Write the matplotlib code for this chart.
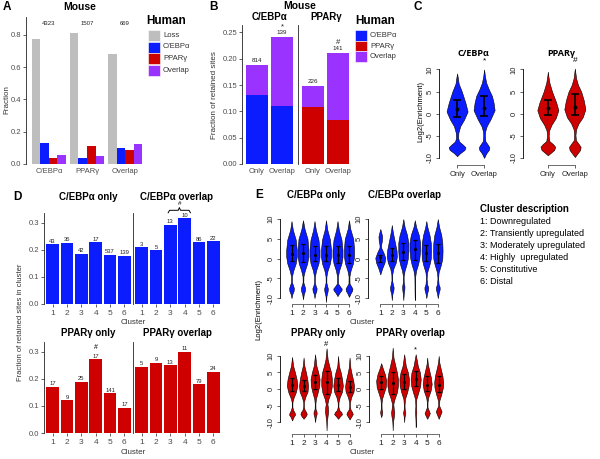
import numpy as np
import matplotlib
matplotlib.use("Agg")
import matplotlib.pyplot as plt
from matplotlib.patches import Rectangle

plt.rcParams['font.family'] = ['Liberation Sans', 'DejaVu Sans']

W, H = 600, 459
BLUE = '#0b1dff'
RED = '#cf0000'
PURPLE = '#9a33ff'
GREY = '#bebebe'
TXT = '#333333'

# ---------------- data ----------------
# A
a_groups = ['C/EBPα', 'PPARγ', 'Overlap']
a_series = ['Loss', 'C/EBPα', 'PPARγ', 'Overlap']
a_loss = [0.775, 0.81, 0.68]
a_cebpa = [0.13, 0.035, 0.10]
a_pparg = [0.035, 0.11, 0.085]
a_overlap = [0.055, 0.05, 0.125]
a_counts = [4323, 1507, 669]

# B
b_facets = ['C/EBPα', 'PPARγ']
b_cats = ['Only', 'Overlap']
b_cebpa_single = [0.132, 0.111]
b_cebpa_total = [0.188, 0.241]
b_pparg_single = [0.109, 0.083]
b_pparg_total = [0.149, 0.211]
b_counts = [[814, 139], [226, 141]]
b_marks = [['', '*'], ['', '#']]

# C  violin profiles: (log2 enrichment, relative half width)
c_cebpa_only = [(-9.6, 0), (-8.9, .3), (-8.2, .7), (-7.6, .8), (-7.0, .55), (-6.3, .2), (-5.5, .1),
                (-4.3, .12), (-2.8, .3), (-1.3, .67), (0.5, 1.0), (2.4, .8), (5, .45), (6.8, .15),
                (8, .08), (9.1, 0)]
c_cebpa_overlap = [(-10, 0), (-9, .2), (-8.2, .45), (-7.6, .5), (-7, .35), (-6.2, .12), (-5, .08),
                   (-4, .1), (-2.8, .25), (-1.3, .6), (0.8, 1.0), (2.5, .9), (4, .75), (5.5, .45),
                   (7, .2), (8.5, .08), (10, 0)]
c_pparg_only = [(-9.4, 0), (-8.8, .3), (-8.2, .6), (-7.5, .7), (-6.9, .5), (-6.2, .15), (-5, .08),
                (-3.8, .12), (-2.5, .35), (-1, .75), (0.8, 1.0), (2.5, .8), (5, .4), (7, .15),
                (8.5, .05), (9.5, 0)]
c_pparg_overlap = [(-9.8, 0), (-9, .25), (-8.2, .5), (-7.5, .55), (-6.8, .35), (-6, .1), (-4.8, .06),
                   (-3.5, .12), (-2.2, .35), (-0.8, .75), (1, 1.0), (3, .85), (5, .6), (6.5, .3),
                   (8, .12), (10.2, 0)]
c_cebpa_box = [(-0.7, 3.2, 1.0), (-0.5, 4.0, 1.2)]   # (low, high, median)
c_pparg_box = [(-0.4, 3.2, 1.3), (-0.3, 4.4, 1.5)]

# D
clusters = ['1', '2', '3', '4', '5', '6']
d_cebpa_only = [0.222, 0.227, 0.186, 0.228, 0.182, 0.179]
d_cebpa_only_n = [43, 36, 42, 17, 537, 139]
d_cebpa_overlap = [0.211, 0.199, 0.293, 0.318, 0.229, 0.232]
d_cebpa_overlap_n = [3, 5, 13, 10, 86, 22]
d_pparg_only = [0.171, 0.122, 0.190, 0.273, 0.147, 0.093]
d_pparg_only_n = [17, 9, 25, 17, 141, 17]
d_pparg_overlap = [0.245, 0.260, 0.250, 0.301, 0.180, 0.227]
d_pparg_overlap_n = [5, 9, 13, 11, 79, 24]

# E  violin profiles per cluster
e_cebpa_only = [
    [(-10, 0), (-9, .15), (-8.2, .4), (-7.5, .45), (-6.8, .3), (-6, .08), (-4.5, .08), (-3, .35),
     (-1.2, .8), (0.5, 1.0), (2.2, 1.0), (4.8, .8), (7.3, .25), (9.5, 0)],
    [(-10.3, 0), (-9, .15), (-8.2, .35), (-7.5, .4), (-6.8, .25), (-6, .06), (-4.5, .08), (-3, .35),
     (-1.2, .8), (0.5, 1.0), (2.5, 1.0), (5, .85), (7.5, .3), (9.7, 0)],
    [(-10, 0), (-9, .12), (-8.2, .35), (-7.5, .4), (-6.8, .2), (-6, .06), (-4.5, .08), (-3, .3),
     (-1.2, .75), (0.5, .95), (2.2, .95), (4.8, .75), (7.3, .25), (9.5, 0)],
    [(-11, 0), (-9.5, .08), (-8.3, .3), (-7.6, .35), (-6.8, .2), (-6, .06), (-4.5, .08), (-3, .3),
     (-1.2, .75), (0.5, .95), (2.2, .95), (4.8, .75), (7.3, .25), (9.7, 0)],
    [(-9.5, 0), (-8.7, .35), (-8, .75), (-7.6, .8), (-7, .45), (-6.3, .1), (-4.5, .08), (-3, .3),
     (-1.2, .75), (0.5, .95), (2.2, .95), (4.8, .75), (7.3, .25), (9.5, 0)],
    [(-9.7, 0), (-8.8, .3), (-8.1, .6), (-7.6, .65), (-7, .4), (-6.3, .1), (-4.5, .08), (-3, .3),
     (-1.2, .75), (0.5, .95), (2.5, .95), (5, .8), (7.5, .25), (9.7, 0)],
]
e_cebpa_only_box = [(-0.5, 3.5, 1.2), (-0.8, 3.8, 1.3), (-0.5, 3.2, 1.0),
                    (-0.5, 3.3, 1.0), (-1, 3.2, 0.8), (-1, 3.3, 1.0)]
e_cebpa_overlap = [
    [(-4, 0), (-2.5, .35), (-1, .8), (0.2, .95), (1.5, .6), (2.8, .15), (3.5, .15), (4.5, .3),
     (5.6, .35), (6.5, .2), (7.5, 0)],
    [(-10.5, 0), (-9, .1), (-8, .3), (-7.3, .35), (-6.5, .2), (-5.5, .06), (-4, .08), (-2.5, .3),
     (-1, .75), (0.5, .95), (2, .9), (4, .6), (6, .3), (7.5, .1), (8.5, 0)],
    [(-10.5, 0), (-9, .08), (-7.8, .2), (-7, .22), (-6, .08), (-4.5, .06), (-3, .25), (-1.5, .6),
     (0, .85), (2, .95), (4, .95), (6, .7), (8, .25), (10, 0)],
    [(-10.5, 0), (-8, .05), (-6, .06), (-4.5, .08), (-3, .25), (-1.5, .6), (0, .85), (2, 1.0),
     (4, 1.0), (6, .75), (8, .25), (9.7, 0)],
    [(-10, 0), (-8.8, .15), (-7.8, .35), (-7.2, .35), (-6.5, .15), (-5, .06), (-3.5, .15),
     (-1.5, .6), (0, .85), (2, .9), (4, .85), (6, .6), (8, .2), (9.5, 0)],
    [(-10, 0), (-8.8, .15), (-7.8, .35), (-7.2, .35), (-6.5, .15), (-5, .06), (-3.5, .15),
     (-1.5, .6), (0, .85), (2, .9), (4, .85), (6, .65), (8, .25), (10, 0)],
]
e_cebpa_overlap_box = [(-0.8, 1.0, 0.3), (-0.7, 2.8, 1.0), (-0.3, 4.0, 1.8),
                       (-0.3, 4.8, 2.5), (-0.7, 3.5, 1.5), (-1, 3.8, 1.4)]
e_pparg_only = [
    [(-9.5, 0), (-8.5, .25), (-7.8, .55), (-7.2, .5), (-6.5, .25), (-5.5, .06), (-4, .06),
     (-2.8, .25), (-1, .7), (1, 1.0), (3, .85), (5, .55), (7, .2), (9.7, 0)],
    [(-9, 0), (-8.3, .35), (-7.6, .6), (-7, .5), (-6.3, .2), (-5.3, .06), (-4, .06), (-2.5, .3),
     (-0.8, .75), (1, .85), (3, .7), (5, .45), (7, .15), (9.5, 0)],
    [(-10, 0), (-8.5, .12), (-7.5, .3), (-6.8, .28), (-6, .08), (-4.5, .06), (-3, .15), (-1, .5),
     (1, .8), (3, .85), (5, .6), (7, .25), (10.5, 0)],
    [(-12.5, 0), (-10, .06), (-8, .2), (-6.8, .3), (-5.5, .25), (-4.5, .15), (-3, .35), (-1, .8),
     (1, 1.0), (3, 1.0), (5, .85), (7, .5), (9, .2), (12.3, 0)],
    [(-9, 0), (-8.3, .35), (-7.6, .75), (-7, .6), (-6.3, .2), (-5.3, .06), (-4, .08), (-2.5, .3),
     (-0.8, .75), (1, .9), (3, .75), (5, .5), (7, .15), (10, 0)],
    [(-9.2, 0), (-8.4, .3), (-7.6, .6), (-7, .5), (-6.3, .2), (-5.3, .06), (-4, .08), (-2.5, .3),
     (-0.8, .75), (0.8, .85), (2.5, .7), (4.5, .4), (6.5, .15), (9.5, 0)],
]
e_pparg_only_box = [(-0.5, 3.2, 1.2), (-0.5, 2.8, 0.9), (0, 4.2, 2.0),
                    (-1.5, 5.5, 2.0), (-0.5, 3.2, 1.2), (-0.8, 2.5, 0.7)]
e_pparg_overlap = [
    [(-8.5, 0), (-7.8, .12), (-7, .2), (-6, .08), (-4.5, .06), (-3, .15), (-1.2, .5), (0.5, .85),
     (2.5, .95), (4.5, .7), (6, .35), (7.8, 0)],
    [(-12.5, 0), (-10, .06), (-8, .25), (-7, .3), (-6, .2), (-4.5, .12), (-3, .35), (-1, .8),
     (1, 1.0), (3, 1.0), (5, .8), (7, .5), (9.5, .15), (12.5, 0)],
    [(-10, 0), (-8.5, .06), (-7.2, .22), (-6.2, .1), (-5, .06), (-3, .15), (-1, .55), (1, .85),
     (3, .9), (5, .7), (7, .3), (10.5, 0)],
    [(-11.5, 0), (-9, .05), (-7, .12), (-5, .06), (-3, .12), (-1, .5), (1, .85), (3, .95),
     (5, .8), (7, .4), (10.5, 0)],
    [(-9, 0), (-8.2, .25), (-7.3, .5), (-6.5, .3), (-5.5, .06), (-4, .06), (-2.5, .2), (-0.5, .65),
     (1.5, .85), (3.5, .7), (5.5, .4), (7.5, .12), (9.5, 0)],
    [(-9, 0), (-8, .25), (-6.8, .55), (-6, .35), (-5, .08), (-3.5, .12), (-1.5, .5), (0.5, .8),
     (2, .85), (4, .7), (6, .4), (8, .12), (10, 0)],
]
e_pparg_overlap_box = [(0, 4.0, 2.0), (-1.5, 5.0, 1.8), (0, 4.5, 2.0),
                       (1, 5.5, 3.0), (-0.5, 3.8, 1.3), (-1, 3.8, 1.2)]

cluster_desc = ['1: Downregulated', '2: Transiently upregulated', '3: Moderately upregulated',
                '4: Highly  upregulated', '5: Constitutive', '6: Distal']

# ---------------- layout helpers ----------------
fig = plt.figure(figsize=(W / 100, H / 100), dpi=100)

ov = fig.add_axes([0, 0, 1, 1])
ov.set_xlim(0, W)
ov.set_ylim(H, 0)
ov.axis('off')
ov.patch.set_alpha(0)


def add_ax(left, top, right, bottom):
    return fig.add_axes([left / W, 1 - bottom / H, (right - left) / W, (bottom - top) / H])


def gg_axes(ax, yticks=None, ylabels=True):
    for s in ['top', 'right', 'bottom']:
        ax.spines[s].set_visible(False)
    ax.spines['left'].set_color('#222222')
    ax.spines['left'].set_linewidth(0.6)
    ax.tick_params(labelsize=5.5, length=2, width=0.5, pad=1.5, colors='#222222',
                   labelcolor='#4d4d4d')
    if yticks is not None:
        ax.set_yticks(yticks)
    if not ylabels:
        ax.tick_params(axis='y', length=0, labelleft=False)
    ax.patch.set_alpha(0)


def violin(ax, pos, prof, color, hw):
    ys = np.array([p[0] for p in prof])
    ws = np.array([p[1] for p in prof]) * hw
    ax.fill_betweenx(ys, pos - ws, pos + ws, facecolor=color, edgecolor='black',
                     linewidth=0.4, zorder=2)


def r_axes(ax, xticks, xlabels, ylow=-10, yhigh=10):
    for s in ['top', 'right']:
        ax.spines[s].set_visible(False)
    ax.spines['left'].set_bounds(ylow, yhigh)
    ax.spines['bottom'].set_bounds(xticks[0], xticks[-1])
    ax.spines['left'].set_linewidth(0.6)
    ax.spines['bottom'].set_linewidth(0.6)
    ax.spines['bottom'].set_color('#555555')
    ax.set_yticks([-10, -5, 0, 5, 10])
    ax.set_yticklabels(['-10', '-5', '0', '5', '10'], rotation=90, va='center')
    ax.set_xticks(xticks)
    ax.set_xticklabels(xlabels)
    ax.tick_params(labelsize=5.5, length=2.5, width=0.5, pad=1.5, colors='#222222')
    ax.patch.set_alpha(0)


# ---------------- A ----------------
ax = add_ax(26, 17, 148, 164)
xa = np.arange(len(a_groups)) + 1
bw = 0.225
for i, (vals, col) in enumerate(zip([a_loss, a_cebpa, a_pparg, a_overlap],
                                     [GREY, BLUE, RED, PURPLE])):
    ax.bar(xa + (i - 1.5) * bw, vals, bw, color=col, linewidth=0)
for xi, n in zip(xa, a_counts):
    ax.text(xi, 0.87, str(n), ha='center', va='center', fontsize=4.3, color='#222222')
ax.set_xlim(0.4, 3.6)
ax.set_ylim(0, 0.91)
gg_axes(ax, [0, 0.2, 0.4, 0.6, 0.8])
ax.set_yticklabels(['0.0', '0.2', '0.4', '0.6', '0.8'])
ax.set_xticks(xa)
ax.set_xticklabels(a_groups)
ax.tick_params(axis='x', length=0, pad=3)

ov.text(7, 7, 'A', fontsize=8.5, fontweight='bold', ha='center', va='center')
ov.text(80, 7, 'Mouse', fontsize=7.5, fontweight='bold', ha='center', va='center')
ov.text(7, 100, 'Fraction', fontsize=5.8, rotation=90, ha='center', va='center', color=TXT)
ov.text(146, 21, 'Human', fontsize=8.5, fontweight='bold', ha='left', va='center')
for i, (lab, col) in enumerate(zip(a_series, [GREY, BLUE, RED, PURPLE])):
    y0 = 30 + i * 11.5
    ov.add_patch(Rectangle((148, y0), 12, 11, facecolor=col, edgecolor='white', lw=0.4))
    ov.text(163, y0 + 5.5, lab, fontsize=5.5, ha='left', va='center', color=TXT)

# ---------------- B ----------------
xb = np.arange(len(b_cats)) + 1
for k in range(2):
    left = [242, 298][k]
    ax = add_ax(left, 25, left + 55, 164)
    single = np.array([b_cebpa_single, b_pparg_single][k])
    total = np.array([b_cebpa_total, b_pparg_total][k])
    col = [BLUE, RED][k]
    ax.bar(xb, single, 0.9, color=col, linewidth=0)
    ax.bar(xb, total - single, 0.9, bottom=single, color=PURPLE, linewidth=0)
    for xi, t, n, m in zip(xb, total, b_counts[k], b_marks[k]):
        ax.text(xi, t + 0.008, str(n), ha='center', va='center', fontsize=4.5, color='#222222')
        if m:
            ax.text(xi, t + 0.019, m, ha='center', va='center', fontsize=5.5, color='#222222')
    ax.set_xlim(0.4, 2.6)
    ax.set_ylim(0, 0.264)
    gg_axes(ax, [0, 0.05, 0.10, 0.15, 0.20, 0.25], ylabels=(k == 0))
    if k == 0:
        ax.set_yticklabels(['0.00', '0.05', '0.10', '0.15', '0.20', '0.25'])
    ax.set_xticks(xb)
    ax.set_xticklabels(b_cats)
    ax.tick_params(axis='x', length=0, pad=3)
    ov.text(left + 28, 17, b_facets[k], fontsize=7, fontweight='bold', ha='center', va='center')

ov.text(213, 7, 'B', fontsize=8.5, fontweight='bold', ha='center', va='center')
ov.text(300, 6, 'Mouse', fontsize=7.5, fontweight='bold', ha='center', va='center')
ov.text(214, 95, 'Fraction of retained sites', fontsize=5.8, rotation=90,
        ha='center', va='center', color=TXT)
ov.text(355, 21, 'Human', fontsize=8.5, fontweight='bold', ha='left', va='center')
for i, (lab, col) in enumerate(zip(['C/EBPα', 'PPARγ', 'Overlap'], [BLUE, RED, PURPLE])):
    y0 = 30 + i * 10.7
    ov.add_patch(Rectangle((355, y0), 12, 10.5, facecolor=col, edgecolor='white', lw=0.4))
    ov.text(370, y0 + 5.3, lab, fontsize=5.5, ha='left', va='center', color=TXT)

# ---------------- C ----------------
ov.text(418, 7, 'C', fontsize=8.5, fontweight='bold', ha='center', va='center')
ov.text(421, 112, 'Log2(Enrichment)', fontsize=5.5, rotation=90, ha='center', va='center')
c_sets = [(439, 497, 0.33, [c_cebpa_only, c_cebpa_overlap], c_cebpa_box, BLUE, 'C/EBPα', '*'),
          (523, 590, 0.08, [c_pparg_only, c_pparg_overlap], c_pparg_box, RED, 'PPARγ', '#')]
for left, right, x0, profs, boxes, col, title, mark in c_sets:
    ax = add_ax(left, 58, right, 165)
    for j, (prof, bx) in enumerate(zip(profs, boxes)):
        violin(ax, j + 1, prof, col, 0.39)
        lo, hi, med = bx
        ax.errorbar(j + 1, med, yerr=[[med - lo], [hi - med]], fmt='o', color='black',
                    ms=1.8, elinewidth=1.2, capsize=3.2, capthick=1.2, zorder=3)
    ax.text(2, 12, mark, ha='center', va='center', fontsize=6)
    ax.set_xlim(x0, x0 + (right - left) / 27.0)
    ax.set_ylim(-11.6, 12.6)
    r_axes(ax, [1, 2], ['Only', 'Overlap'])
    ov.text((left + right) / 2 + 5, 53, title, fontsize=6.5, fontweight='bold',
            ha='center', va='center', family=['Open Sans', 'DejaVu Sans'])

# ---------------- D ----------------
ov.text(17, 197, 'D', fontsize=8.5, fontweight='bold', ha='center', va='center')
ov.text(21, 322, 'Fraction of retained sites in cluster', fontsize=5.5, rotation=90,
        ha='center', va='center', color=TXT)
xd = np.arange(len(clusters)) + 1
d_sets = [
    (44, 213, 304, 197, d_cebpa_only, d_cebpa_only_n, BLUE, 'C/EBPα only', True),
    (133, 213, 304, 197, d_cebpa_overlap, d_cebpa_overlap_n, BLUE, 'C/EBPα overlap', False),
    (44, 342, 433, 333, d_pparg_only, d_pparg_only_n, RED, 'PPARγ only', True),
    (133, 342, 433, 333, d_pparg_overlap, d_pparg_overlap_n, RED, 'PPARγ overlap', False),
]
d_axes = []
for left, top, bottom, ty, vals, ns, col, title, first in d_sets:
    ax = add_ax(left, top, left + 89, bottom)
    ax.bar(xd, vals, 0.9, color=col, linewidth=0)
    for xi, v, n in zip(xd, vals, ns):
        ax.text(xi, v + 0.011, str(n), ha='center', va='center', fontsize=4.2, color='#222222')
    ax.set_xlim(0.4, 6.6)
    ax.set_ylim(0, 0.337)
    gg_axes(ax, [0, 0.1, 0.2, 0.3], ylabels=first)
    if first:
        ax.set_yticklabels(['0.0', '0.1', '0.2', '0.3'])
    ax.set_xticks(xd)
    ax.set_xticklabels(clusters)
    ax.tick_params(axis='x', length=2, pad=2, labelsize=6)
    ov.text(left + 44, ty, title, fontsize=7, fontweight='bold', ha='center', va='center')
    d_axes.append(ax)
ov.text(133, 322, 'Cluster', fontsize=5.8, ha='center', va='center', color=TXT)
ov.text(133, 453, 'Cluster', fontsize=5.8, ha='center', va='center', color=TXT)

# brace over clusters 3-4 in C/EBPα overlap, '#' over cluster 4 in PPARγ only
ax = d_axes[1]
ax.plot([2.85, 2.95, 3.55, 3.63, 3.71, 4.3, 4.4],
        [0.338, 0.347, 0.347, 0.357, 0.347, 0.347, 0.338],
        color='black', lw=0.7, clip_on=False)
ax.text(3.63, 0.374, '#', ha='center', va='center', fontsize=4.5)
d_axes[2].text(4, d_pparg_only[3] + 0.045, '#', ha='center', va='center', fontsize=5)

# ---------------- E ----------------
ov.text(259, 195, 'E', fontsize=8.5, fontweight='bold', ha='center', va='center')
ov.text(259, 310, 'Log2(Enrichment)', fontsize=5.5, rotation=90, ha='center', va='center')
e_sets = [
    (280, 357, 0.0, 214, 304, (-11.5, 11.3), e_cebpa_only, e_cebpa_only_box, BLUE,
     'C/EBPα only', None, 316, 195),
    (368, 445, -0.07, 214, 304, (-11.5, 11.3), e_cebpa_overlap, e_cebpa_overlap_box, BLUE,
     'C/EBPα overlap', None, 405, 195),
    (280, 357, -0.05, 345, 434, (-13.6, 13.3), e_pparg_only, e_pparg_only_box, RED,
     'PPARγ only', '#', 318, 333),
    (369, 446, -0.06, 345, 434, (-13.6, 13.3), e_pparg_overlap, e_pparg_overlap_box, RED,
     'PPARγ overlap', '*', 410, 333),
]
for left, right, x0, top, bottom, ylim, profs, boxes, col, title, mark, tx, ty in e_sets:
    ax = add_ax(left, top, right, bottom)
    for j, (prof, bx) in enumerate(zip(profs, boxes)):
        violin(ax, j + 1, prof, col, 0.46)
        lo, hi, med = bx
        ax.errorbar(j + 1, med, yerr=[[med - lo], [hi - med]], fmt='o', color='black',
                    ms=1.2, elinewidth=0.9, capsize=1.6, capthick=0.9, zorder=3)
    if mark:
        top_y = max(p[0] for p in profs[3])
        ax.text(4, top_y + 1.3, mark, ha='center', va='center', fontsize=5.5, clip_on=False)
    span = (right - left) / 11.5
    ax.set_xlim(x0, x0 + span)
    ax.set_ylim(*ylim)
    r_axes(ax, list(range(1, 7)), clusters)
    ax.tick_params(axis='x', labelsize=6)
    ov.text(tx, ty, title, fontsize=7, fontweight='bold', ha='center', va='center')
ov.text(362, 322, 'Cluster', fontsize=5.8, ha='center', va='center', color=TXT)
ov.text(362, 453, 'Cluster', fontsize=5.8, ha='center', va='center', color=TXT)

ov.text(480, 209, 'Cluster description', fontsize=7, fontweight='bold', ha='left', va='center')
for i, line in enumerate(cluster_desc):
    ov.text(480, 221 + i * 12, line, fontsize=6.5, ha='left', va='center')

fig.savefig('out.png', dpi=100)
